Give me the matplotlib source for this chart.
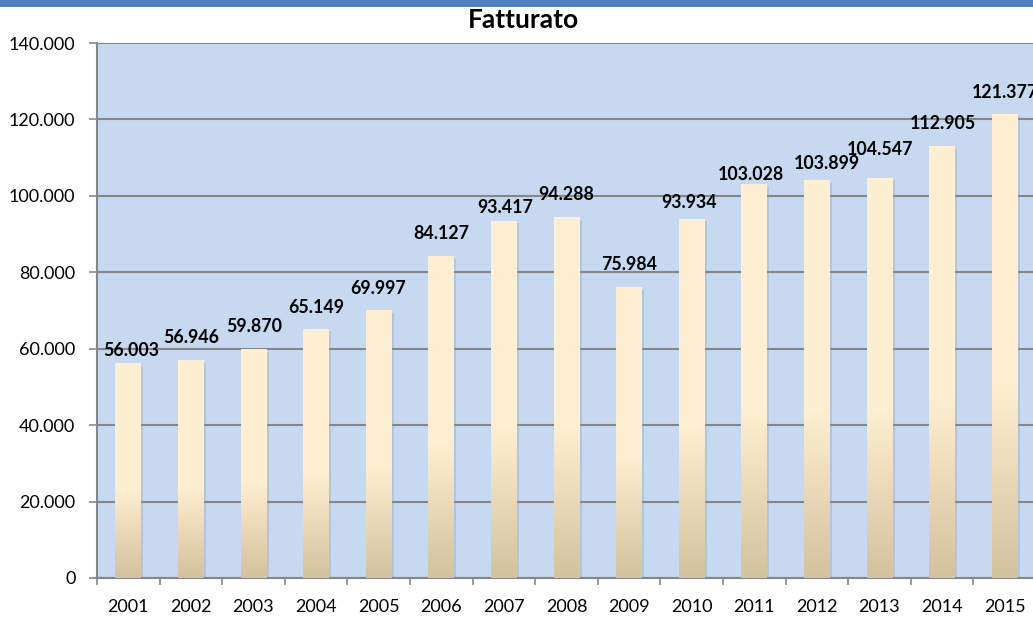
import matplotlib
matplotlib.use("Agg")
import matplotlib.pyplot as plt
import numpy as np
from matplotlib.colors import LinearSegmentedColormap
from matplotlib.patches import Rectangle

years = ["2001", "2002", "2003", "2004", "2005", "2006", "2007", "2008",
         "2009", "2010", "2011", "2012", "2013", "2014", "2015"]
fatturato = [56003, 56946, 59870, 65149, 69997, 84127, 93417, 94288,
             75984, 93934, 103028, 103899, 104547, 112905, 121377]
y_ticks = [0, 20000, 40000, 60000, 80000, 100000, 120000, 140000]

# data labels were moved by hand in the original: (dx, dy) in pixels from bar top
label_shift = [(3, 14), (0, 24), (1, 24), (0, 23), (-1, 23), (0, 24), (1, 15), (0, 24),
               (0, 24), (-3, 18), (-3, 11), (10, 18), (1, 30), (1, 24), (0, 23)]


def fmt_it(v):
    # thousands with a dot, italian style
    return f"{v:,}".replace(",", ".")


plt.rcParams['font.family'] = ['Lato', 'DejaVu Sans']

fig = plt.figure(figsize=(10.33, 6.18), dpi=100)
fig.patch.set_facecolor("white")
fig.patches.append(Rectangle((0, 1 - 7 / 618), 1, 7 / 618, transform=fig.transFigure,
                             facecolor="#4F81BD", edgecolor="none"))

ax = fig.add_axes([97 / 1033, 40 / 618, 939 / 1033, 535 / 618])
ax.set_facecolor("#C6D9F0")

grad_cmap = LinearSegmentedColormap.from_list(
    "bar", [(0.0, "#D2C29E"), (0.42, "#FFEFD2"), (1.0, "#FFF0D3")])
grad = np.linspace(0, 1, 256).reshape(-1, 1)

width = 0.41
x = np.arange(len(years))
for xi, v, (dx, dy) in zip(x, fatturato, label_shift):
    # soft shadow
    ax.add_patch(Rectangle((xi - width / 2 + 0.035, -600), width, v, facecolor="#8A98AE",
                           alpha=0.3, edgecolor="none", zorder=2.5))
    ax.imshow(grad, cmap=grad_cmap, origin="lower", aspect="auto",
              extent=[xi - width / 2, xi + width / 2, 0, v], zorder=3, interpolation="bilinear")
    ax.annotate(fmt_it(v), (xi, v), xytext=(dx * 0.72, (dy - 6.5) * 0.72),
                textcoords="offset points", ha="center", va="baseline",
                fontsize=12.8, fontweight="bold", color="black",
                zorder=5, annotation_clip=False)

ax.set_xlim(-0.5, len(years) - 0.5)
ax.set_ylim(0, 140000)
ax.set_yticks(y_ticks)
ax.set_yticklabels([fmt_it(t) for t in y_ticks], fontsize=13)
ax.set_xticks(x)
ax.set_xticklabels(years, fontsize=13)
ax.set_xticks(np.arange(-0.5, len(years)), minor=True)
ax.tick_params(axis="x", which="major", length=0, pad=15)
ax.tick_params(axis="x", which="minor", length=5, color="#868686", width=1.2)
ax.tick_params(axis="y", length=6, color="#868686", width=1.2, pad=9.5)

ax.yaxis.grid(True, color="#868686", linewidth=1.5, zorder=1)
ax.set_axisbelow(True)
for side in ["top", "right"]:
    ax.spines[side].set_visible(False)
for side in ["left", "bottom"]:
    ax.spines[side].set_color("#868686")
    ax.spines[side].set_linewidth(1.5)

fig.text(0.507, 1 - 20 / 618, "Fatturato", ha="center", va="center",
         fontsize=19, fontweight="bold")

fig.savefig("out.png", dpi=100)
